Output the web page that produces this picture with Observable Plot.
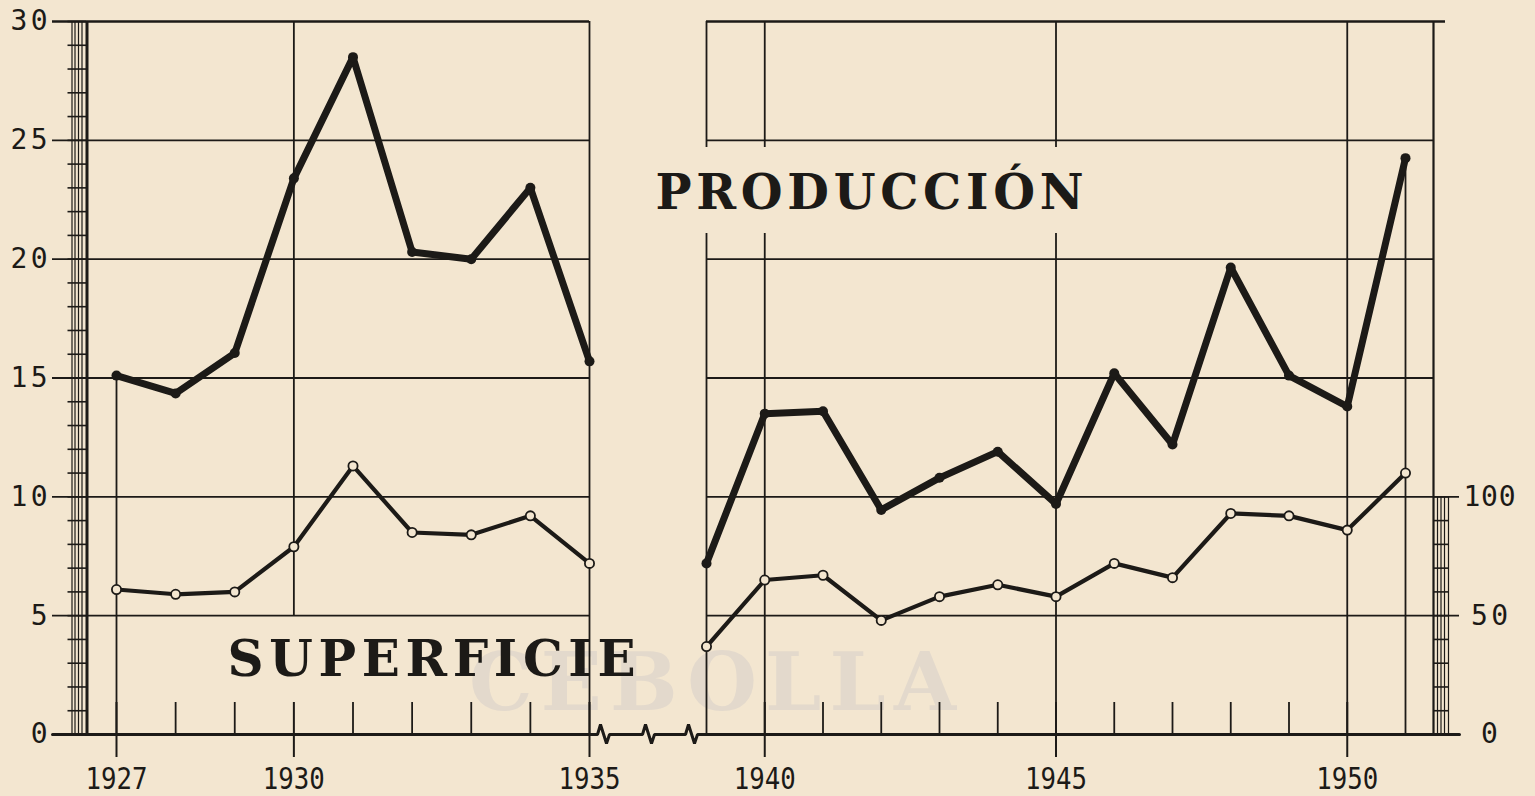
<!DOCTYPE html>
<html>
<head>
<meta charset="utf-8">
<script src="https://cdn.jsdelivr.net/npm/d3@7"></script>
<script src="https://cdn.jsdelivr.net/npm/@observablehq/plot@0.6"></script>
<style>
  html, body { margin: 0; padding: 0; background: #f3e6d0; }
</style>
</head>
<body>
<div id="chart"></div>
<script>
// ---------------- DATA ----------------
const years = [1927, 1928, 1929, 1930, 1931, 1932, 1933, 1934, 1935,
               1939, 1940, 1941, 1942, 1943, 1944, 1945, 1946, 1947, 1948, 1949, 1950, 1951];
// Producción (left axis, 0–30)
const produccion = [15.1, 14.35, 16.05, 23.4, 28.5, 20.3, 20.0, 23.0, 15.7,
                    7.2, 13.5, 13.6, 9.45, 10.8, 11.9, 9.7, 15.2, 12.2, 19.65, 15.1, 13.8, 24.25];
// Superficie (right axis, 0–100)
const superficie = [61, 59, 60, 79, 113, 85, 84, 92, 72,
                    37, 65, 67, 48, 58, 63, 58, 72, 66, 93, 92, 86, 110];
const leftTicks = [0, 5, 10, 15, 20, 25, 30];
const rightTicks = [0, 50, 100];
const rightPerLeft = 10;            // 100 on the right axis sits at 10 on the left axis
const yearLabels = [1927, 1930, 1935, 1940, 1945, 1950];
const tituloProduccion = "PRODUCCIÓN";
const tituloSuperficie = "SUPERFICIE";
const marcaAgua = "CEBOLLA";

// ---------------- LAYOUT ----------------
const W = 1535, H = 796;
const bg = "#f3e6d0", ink = "#1c1a17";
const xDomain = [1927, 1935, 1939, 1951], xRange = [116, 589, 706, 1405];   // broken axis 1935 | 1939
const yDomain = [0, 30], yRange = [734, 21];
const xs = d3.scaleLinear(xDomain, xRange), ys = d3.scaleLinear(yDomain, yRange);
const px = p => xs.invert(p), py = p => ys.invert(p);

const rows = years.map((year, i) => ({
  year, produccion: produccion[i], superficie: superficie[i],
  tramo: year <= 1935 ? "1927-1935" : "1939-1951"
}));
const firstLast = [rows[0], rows[rows.length - 1]];
const minorYears = years.filter(y => !yearLabels.includes(y) && y !== 1939 && y !== 1951);

const leftStart = px(52), rightFrame = px(1433), rightTopEnd = px(1445), rightTickEnd = px(1459);
const gapTop = py(147), gapBottom = py(233);
const tickDown = py(757), tickUp = py(702);
const rightAxisVals = rightTicks.map(v => v / rightPerLeft);

// axis line with the break zig-zags
const axisPts = [{x: leftStart, y: 0}];
for (const c of [600, 645, 688]) {
  axisPts.push({x: px(c - 3), y: 0}, {x: px(c), y: py(724)}, {x: px(c + 6), y: py(743)}, {x: px(c + 9), y: 0});
}
axisPts.push({x: rightTickEnd, y: 0});

const leftBarLines = [71.5, 74.5, 78, 81.5].map(px);
const rightBarLines = [1437, 1440.5, 1444, 1448].map(px);

const chart = Plot.plot({
  width: W, height: H,
  marginTop: 0, marginRight: 0, marginBottom: 0, marginLeft: 0,
  style: {background: bg, overflow: "visible"},
  x: {type: "linear", domain: xDomain, range: xRange, axis: null},
  y: {type: "linear", domain: yDomain, range: yRange, axis: null},
  marks: [
    // faint show-through lettering
    Plot.text([marcaAgua], {x: px(712), y: py(684), text: d => d, fontSize: 80, fontWeight: "bold",
      fontFamily: "DejaVu Serif", fill: "#e3d9cc"}),

    // horizontal grid, left panel
    Plot.ruleY(leftTicks.filter(v => v > 0 && v < 30), {x1: leftStart, x2: 1935, stroke: ink, strokeWidth: 1.8}),
    Plot.ruleY([30], {x1: leftStart, x2: 1935, stroke: ink, strokeWidth: 2.4}),
    // horizontal grid, right panel
    Plot.ruleY(leftTicks.filter(v => v > 0 && v < 30), {x1: 1939,
      x2: d => rightAxisVals.includes(d) ? rightTickEnd : rightFrame, stroke: ink, strokeWidth: 1.8}),
    Plot.ruleY([30], {x1: 1939, x2: rightTopEnd, stroke: ink, strokeWidth: 2.4}),

    // vertical grid / frames
    Plot.ruleX([1930], {y1: 5, y2: 30, stroke: ink, strokeWidth: 1.8}),
    Plot.ruleX([1935, 1950], {y1: 0, y2: 30, stroke: ink, strokeWidth: 1.8}),
    Plot.ruleX([1939, 1940, 1945], {y1: 0, y2: gapBottom, stroke: ink, strokeWidth: 1.8}),
    Plot.ruleX([1939, 1940, 1945], {y1: gapTop, y2: 30, stroke: ink, strokeWidth: 1.8}),
    Plot.ruleX([rightFrame], {y1: 0, y2: 30, stroke: ink, strokeWidth: 2.2}),
    Plot.ruleX(firstLast, {x: "year", y1: 0, y2: "produccion", stroke: ink, strokeWidth: 1.8}),

    // ticks on the year axis
    Plot.ruleX(yearLabels, {y1: tickDown, y2: tickUp, stroke: ink, strokeWidth: 2}),
    Plot.ruleX(minorYears, {y1: 0, y2: tickUp, stroke: ink, strokeWidth: 1.8}),

    // ladder bars
    Plot.ruleX(leftBarLines, {y1: 0, y2: 30, stroke: ink, strokeWidth: 1.2}),
    Plot.ruleX([px(86.5)], {y1: 0, y2: 30, stroke: ink, strokeWidth: 3}),
    Plot.ruleY(d3.range(0, 31), {x1: px(67.5), x2: px(86), stroke: ink, strokeWidth: 1.6}),
    Plot.ruleX(rightBarLines, {y1: 0, y2: 10, stroke: ink, strokeWidth: 1.2}),
    Plot.ruleY(d3.range(0, 11), {x1: rightFrame, x2: px(1449), stroke: ink, strokeWidth: 1.6}),

    // axis with break
    Plot.line(axisPts, {x: "x", y: "y", stroke: ink, strokeWidth: 3, strokeLinejoin: "miter"}),

    // series
    Plot.line(rows, {x: "year", y: "produccion", z: "tramo", stroke: ink, strokeWidth: 7,
      strokeLinejoin: "round", strokeLinecap: "round"}),
    Plot.dot(rows, {x: "year", y: "produccion", r: 5, fill: ink}),
    Plot.line(rows, {x: "year", y: d => d.superficie / rightPerLeft, z: "tramo", stroke: ink, strokeWidth: 4.2,
      strokeLinejoin: "round"}),
    Plot.dot(rows, {x: "year", y: d => d.superficie / rightPerLeft, r: 4.6, fill: bg, stroke: ink, strokeWidth: 1.8}),

    // tick labels
    Plot.text(leftTicks, {x: px(47), y: d => d, text: d => String(d), textAnchor: "end", fontSize: 28,
      fontFamily: "DejaVu Sans Mono", fill: ink}),
    Plot.text(rightTicks, {x: px(1489), y: d => d / rightPerLeft, text: d => String(d), textAnchor: "middle",
      fontSize: 28, fontFamily: "DejaVu Sans Mono", fill: ink}),
    Plot.text(yearLabels, {x: d => d, y: py(779), text: d => String(d), fontSize: 30,
      fontFamily: "DejaVu Sans Mono", fill: ink}),

    // titles
    Plot.text([tituloProduccion], {x: px(869), y: py(193), text: d => d, fontSize: 48, fontWeight: "bold",
      fontFamily: "DejaVu Serif", fill: ink}),
    Plot.text([tituloSuperficie], {x: px(431), y: py(659), text: d => d, fontSize: 50, fontWeight: "bold",
      fontFamily: "DejaVu Serif", fill: ink})
  ]
});

// stretch lettering to the widths used in the original drawing
const fitWidth = {[tituloProduccion]: 428, [tituloSuperficie]: 408, [marcaAgua]: 487, "100": 52};
const squeeze = new Set(yearLabels.map(String));
yearLabels.forEach(y => fitWidth[String(y)] = 62);
d3.select(chart).selectAll("text").each(function () {
  const t = this.textContent;
  let w = fitWidth[t];
  if (w === undefined && t.length === 2) w = 37;
  if (w !== undefined) {
    this.setAttribute("textLength", w);
    this.setAttribute("lengthAdjust", squeeze.has(t) ? "spacingAndGlyphs" : "spacing");
  }
});
document.getElementById("chart").appendChild(chart);
</script>
</body>
</html>
